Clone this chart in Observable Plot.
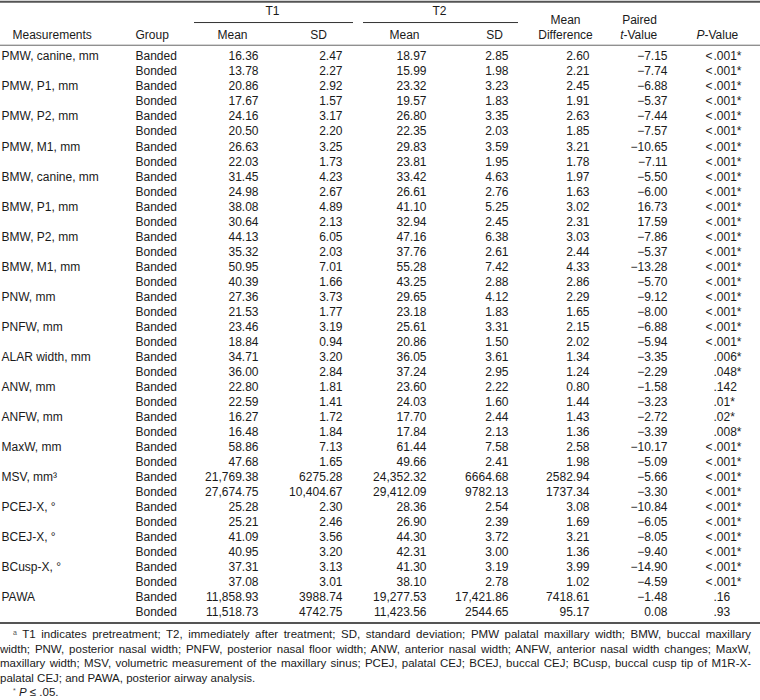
<!DOCTYPE html>
<html><head><meta charset="utf-8">
<script src="https://cdn.jsdelivr.net/npm/d3@7"></script>
<script src="https://cdn.jsdelivr.net/npm/@observablehq/plot@0.6"></script>
<style>
body{margin:0;background:#fff;font-family:"Liberation Sans",Arial,Helvetica,sans-serif;color:#1a1a1a;}
#chart{width:760px;height:627px;}
#chart svg{display:block;}
.fn{width:751px;font-size:11.5px;line-height:14.6px;color:#1a1a1a;}
.fn div{text-align:justify;text-align-last:justify;}
.fn div.ind{padding-left:13px;}
.fn div.last{text-align-last:left;}
.fn sup{font-size:7px;line-height:0;vertical-align:3px;color:#555;}
</style></head><body><div id="chart"></div><div class="fn" id="fn"></div><script>
// ---------- data ----------
const measurements = ["PMW, canine, mm","PMW, P1, mm","PMW, P2, mm","PMW, M1, mm","BMW, canine, mm","BMW, P1, mm","BMW, P2, mm","BMW, M1, mm","PNW, mm","PNFW, mm","ALAR width, mm","ANW, mm","ANFW, mm","MaxW, mm","MSV, mm\u00b3","PCEJ-X, \u00b0","BCEJ-X, \u00b0","BCusp-X, \u00b0","PAWA"];
const groups = ["Banded","Bonded"];
const t1Mean = [16.36,13.78,20.86,17.67,24.16,20.50,26.63,22.03,31.45,24.98,38.08,30.64,44.13,35.32,50.95,40.39,27.36,21.53,23.46,18.84,34.71,36.00,22.80,22.59,16.27,16.48,58.86,47.68,21769.38,27674.75,25.28,25.21,41.09,40.95,37.31,37.08,11858.93,11518.73];
const t1SD = [2.47,2.27,2.92,1.57,3.17,2.20,3.25,1.73,4.23,2.67,4.89,2.13,6.05,2.03,7.01,1.66,3.73,1.77,3.19,0.94,3.20,2.84,1.81,1.41,1.72,1.84,7.13,1.65,6275.28,10404.67,2.30,2.46,3.56,3.20,3.13,3.01,3988.74,4742.75];
const t2Mean = [18.97,15.99,23.32,19.57,26.80,22.35,29.83,23.81,33.42,26.61,41.10,32.94,47.16,37.76,55.28,43.25,29.65,23.18,25.61,20.86,36.05,37.24,23.60,24.03,17.70,17.84,61.44,49.66,24352.32,29412.09,28.36,26.90,44.30,42.31,41.30,38.10,19277.53,11423.56];
const t2SD = [2.85,1.98,3.23,1.83,3.35,2.03,3.59,1.95,4.63,2.76,5.25,2.45,6.38,2.61,7.42,2.88,4.12,1.83,3.31,1.50,3.61,2.95,2.22,1.60,2.44,2.13,7.58,2.41,6664.68,9782.13,2.54,2.39,3.72,3.00,3.19,2.78,17421.86,2544.65];
const meanDiff = [2.60,2.21,2.45,1.91,2.63,1.85,3.21,1.78,1.97,1.63,3.02,2.31,3.03,2.44,4.33,2.86,2.29,1.65,2.15,2.02,1.34,1.24,0.80,1.44,1.43,1.36,2.58,1.98,2582.94,1737.34,3.08,1.69,3.21,1.36,3.99,1.02,7418.61,95.17];
const tValue = [-7.15,-7.74,-6.88,-5.37,-7.44,-7.57,-10.65,-7.11,-5.50,-6.00,16.73,17.59,-7.86,-5.37,-13.28,-5.70,-9.12,-8.00,-6.88,-5.94,-3.35,-2.29,-1.58,-3.23,-2.72,-3.39,-10.17,-5.09,-5.66,-3.30,-10.84,-6.05,-8.05,-9.40,-14.90,-4.59,-1.48,0.08];
const pValue = ["<.001*","<.001*","<.001*","<.001*","<.001*","<.001*","<.001*","<.001*","<.001*","<.001*","<.001*","<.001*","<.001*","<.001*","<.001*","<.001*","<.001*","<.001*","<.001*","<.001*",".006*",".048*",".142",".01*",".02*",".008*","<.001*","<.001*","<.001*","<.001*","<.001*","<.001*","<.001*","<.001*","<.001*","<.001*",".16",".93"];
const timeHeaders = ["T1","T2"];
const subHeaders = ["Measurements","Group","Mean","SD","Mean","SD"];
const diffHeader = ["Mean","Difference"];
const tHeader = ["Paired","t","-Value"];
const pHeader = ["P","-Value"];
const footnoteLines = [
  "<sup>a</sup> T1 indicates pretreatment; T2, immediately after treatment; SD, standard deviation; PMW palatal maxillary width; BMW, buccal maxillary",
  "width; PNW, posterior nasal width; PNFW, posterior nasal floor width; ANW, anterior nasal width; ANFW, anterior nasal width changes; MaxW,",
  "maxillary width; MSV, volumetric measurement of the maxillary sinus; PCEJ, palatal CEJ; BCEJ, buccal CEJ; BCusp, buccal cusp tip of M1R-X-",
  "palatal CEJ; and PAWA, posterior airway analysis.",
  "<sup>*</sup> <i>P</i> \u2264 .05."
];

// ---------- layout ----------
const L = {
  width: 760, height: 627, firstRowPx: 56, lastRowPx: 612,
  xMeas: 1, xGroup: 135, xHeadMeas: 12,
  numRight: {t1m: 258, t1s: 342, t2m: 426, t2s: 508, diff: 589, t: 667},
  pDot: 713,
  headCenter: {t1m: 232, t1s: 318, t2m: 404, t2s: 494, diff: 565, paired: 639},
  tJunction: 623, pJunction: 704,
  timeCenter: [272, 439], underline: [[194, 353], [363, 518]],
  // vertical positions in row units
  yTopRule: -3.65, yTime: -3.04, yUnder: -2.26, ySub1: -2.4, ySub2: -1.4, yHeadRule: -0.75, yBottomRule: 37.7
};
const fs = 12, ink = "#1a1a1a";

// ---------- table ----------
const nRows = measurements.length * groups.length;
const rows = measurements.flatMap((m, i) => groups.map((g, j) => {
  const k = i * groups.length + j;
  const p = pValue[k];
  return {row: k, measurement: j === 0 ? m : "", group: g,
    t1m: t1Mean[k], t1s: t1SD[k], t2m: t2Mean[k], t2s: t2SD[k], diff: meanDiff[k], t: tValue[k],
    pPre: p.startsWith("<") ? "<" : "", pRest: p.startsWith("<") ? p.slice(1) : p};
}));
const fmtSmall = d3.format(".2f"), fmtBig = d3.format(",.2f");
const fmt = v => Math.abs(v) >= 10000 ? fmtBig(v) : fmtSmall(v);

const numMarks = Object.entries(L.numRight).map(([key, xr]) =>
  Plot.text(rows, {x: xr, y: "row", text: d => fmt(d[key]), textAnchor: "end", fontSize: fs, fill: ink}));

const keys = ["t1m","t1s","t2m","t2s"];
const subMarks = subHeaders.slice(2).map((label, i) =>
  Plot.text([label], {x: L.headCenter[keys[i]], y: L.ySub2, text: d => d, textAnchor: "middle", fontSize: fs, fill: ink}));

const chart = Plot.plot({
  width: L.width, height: L.height, margin: 0,
  x: {domain: [0, L.width], range: [0, L.width], axis: null},
  y: {domain: [0, nRows - 1], range: [L.firstRowPx, L.lastRowPx], axis: null},
  style: {fontFamily: '"Liberation Sans", Arial, Helvetica, sans-serif', fontSize: fs + "px", color: ink, background: "#fff"},
  marks: [
    Plot.ruleY([L.yTopRule], {x1: 0, x2: L.width, stroke: "#555", strokeWidth: 2}),
    Plot.ruleY([L.yHeadRule], {x1: 0, x2: L.width, stroke: "#666", strokeWidth: 1}),
    Plot.ruleY([L.yBottomRule], {x1: 0, x2: L.width, stroke: "#555", strokeWidth: 2}),
    ...timeHeaders.map((h, i) => Plot.ruleY([L.yUnder], {x1: L.underline[i][0], x2: L.underline[i][1], stroke: "#333", strokeWidth: 1})),
    ...timeHeaders.map((h, i) => Plot.text([h], {x: L.timeCenter[i], y: L.yTime, text: d => d, fontSize: fs, fill: ink})),
    Plot.text([subHeaders[0]], {x: L.xHeadMeas, y: L.ySub2, text: d => d, textAnchor: "start", fontSize: fs, fill: ink}),
    Plot.text([subHeaders[1]], {x: L.xGroup, y: L.ySub2, text: d => d, textAnchor: "start", fontSize: fs, fill: ink}),
    ...subMarks,
    Plot.text([diffHeader[0]], {x: L.headCenter.diff, y: L.ySub1, text: d => d, fontSize: fs, fill: ink}),
    Plot.text([diffHeader[1]], {x: L.headCenter.diff, y: L.ySub2, text: d => d, fontSize: fs, fill: ink}),
    Plot.text([tHeader[0]], {x: L.headCenter.paired, y: L.ySub1, text: d => d, fontSize: fs, fill: ink}),
    Plot.text([tHeader[1]], {x: L.tJunction, y: L.ySub2, text: d => d, textAnchor: "end", fontStyle: "italic", fontSize: fs, fill: ink}),
    Plot.text([tHeader[2]], {x: L.tJunction, y: L.ySub2, text: d => d, textAnchor: "start", fontSize: fs, fill: ink}),
    Plot.text([pHeader[0]], {x: L.pJunction, y: L.ySub2, text: d => d, textAnchor: "end", fontStyle: "italic", fontSize: fs, fill: ink}),
    Plot.text([pHeader[1]], {x: L.pJunction, y: L.ySub2, text: d => d, textAnchor: "start", fontSize: fs, fill: ink}),
    Plot.text(rows, {x: L.xMeas, y: "row", text: "measurement", textAnchor: "start", fontSize: fs, fill: ink}),
    Plot.text(rows, {x: L.xGroup, y: "row", text: "group", textAnchor: "start", fontSize: fs, fill: ink}),
    ...numMarks,
    Plot.text(rows, {x: L.pDot - 1, y: "row", text: "pPre", textAnchor: "end", fontSize: fs, fill: ink}),
    Plot.text(rows, {x: L.pDot, y: "row", text: "pRest", textAnchor: "start", fontSize: fs, fill: ink})
  ]
});
document.getElementById("chart").appendChild(chart);

const fn = document.getElementById("fn");
footnoteLines.forEach((line, i) => {
  const div = document.createElement("div");
  div.innerHTML = line;
  if (i === 0 || i === footnoteLines.length - 1) div.classList.add("ind");
  if (i >= footnoteLines.length - 2) div.classList.add("last");
  fn.appendChild(div);
});
</script></body></html>
